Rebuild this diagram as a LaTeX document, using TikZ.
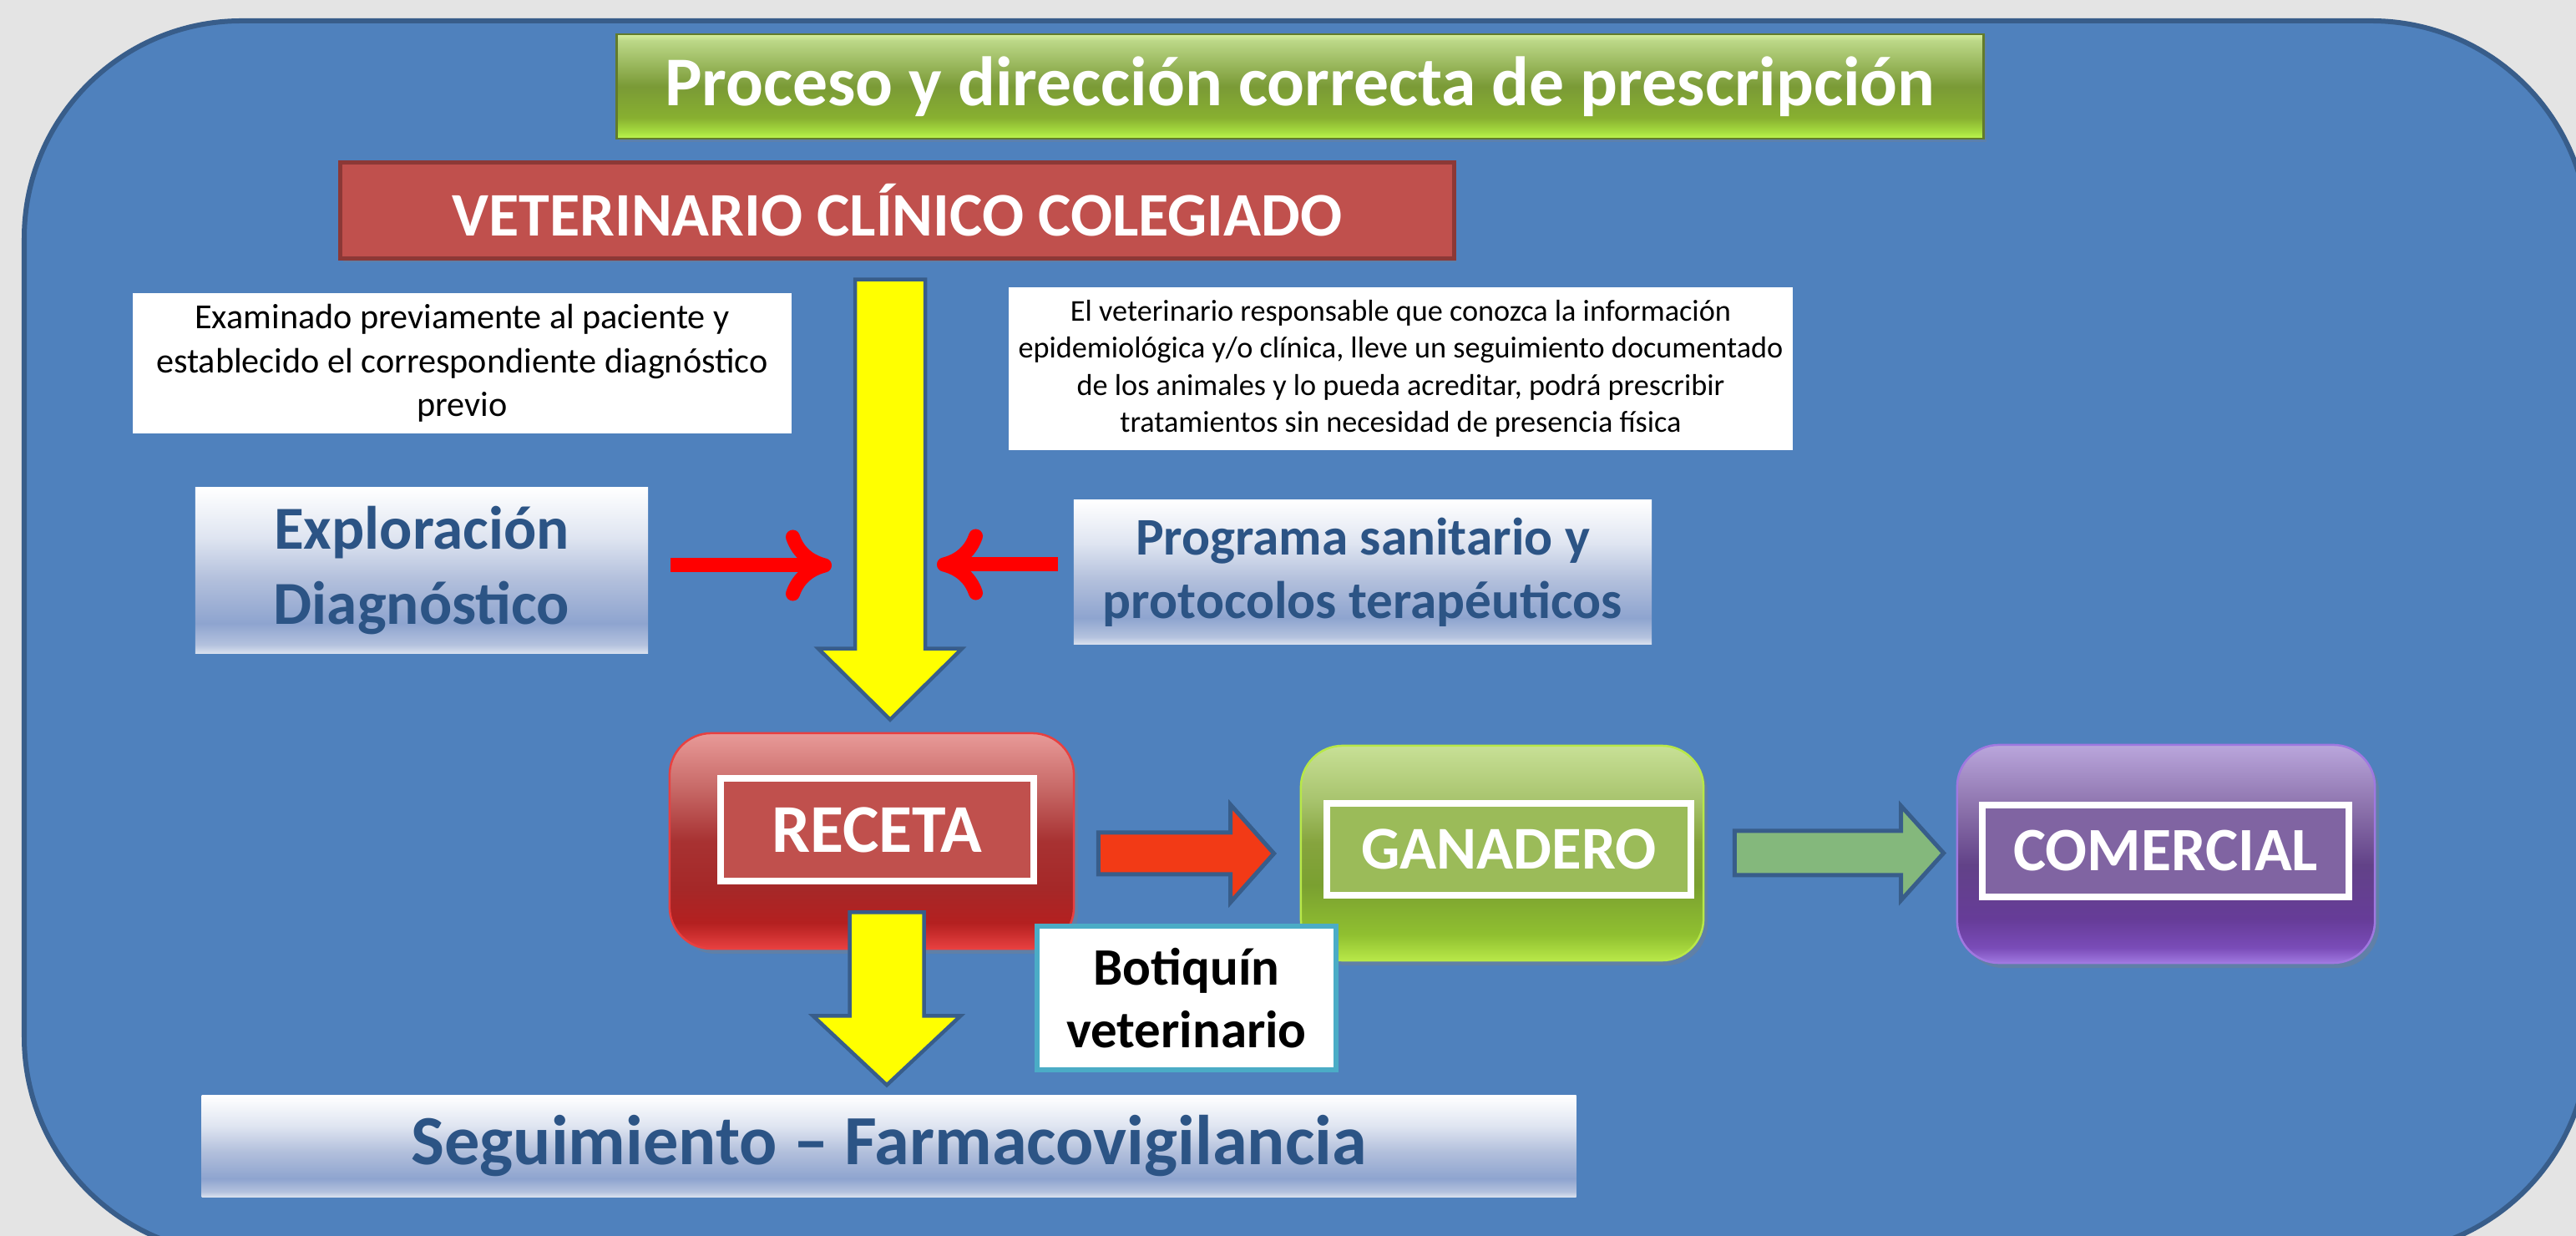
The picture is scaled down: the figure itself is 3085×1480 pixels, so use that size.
\documentclass[tikz,border=0pt]{standalone}
\usepackage{fontspec}
\setmainfont{Carlito}
\usetikzlibrary{arrows.meta,calc,shadows}
\definecolor{bgray}{HTML}{E4E4E4}
\definecolor{oblue}{HTML}{4F81BD}
\definecolor{oline}{HTML}{385D8A}
\definecolor{txtblue}{HTML}{2C5485}
\definecolor{vetred}{HTML}{C0504D}
\definecolor{vetline}{HTML}{8C3836}
\definecolor{ganfill}{HTML}{9BBB59}
\definecolor{comfill}{HTML}{8064A2}
\definecolor{botline}{HTML}{4BACC6}
\definecolor{arrred}{HTML}{F23A16}
\definecolor{arrgreen}{HTML}{84B87C}
\definecolor{yel}{HTML}{FFFF00}
% receta shading
\definecolor{rc1}{HTML}{E89A98}\definecolor{rc2}{HTML}{C86A68}\definecolor{rc3}{HTML}{A83232}
\definecolor{rc4}{HTML}{A52828}\definecolor{rc5}{HTML}{B42020}\definecolor{rc6}{HTML}{E84040}
\pgfdeclareverticalshading{recsh}{100bp}{color(0bp)=(rc6); color(25bp)=(rc6); color(31bp)=(rc5); color(39bp)=(rc4); color(50bp)=(rc3); color(62.5bp)=(rc2); color(75bp)=(rc1); color(100bp)=(rc1)}
% ganadero shading
\definecolor{gc1}{HTML}{C8E096}\definecolor{gc2}{HTML}{A8C46E}\definecolor{gc3}{HTML}{86A43E}
\definecolor{gc4}{HTML}{7AA030}\definecolor{gc5}{HTML}{90C030}\definecolor{gc6}{HTML}{B8E848}
\pgfdeclareverticalshading{gansh}{100bp}{color(0bp)=(gc6); color(25bp)=(gc6); color(31bp)=(gc5); color(42.5bp)=(gc4); color(52.5bp)=(gc3); color(62.5bp)=(gc2); color(75bp)=(gc1); color(100bp)=(gc1)}
% comercial shading
\definecolor{pc1}{HTML}{BAA6DC}\definecolor{pc2}{HTML}{8A70AA}\definecolor{pc3}{HTML}{624288}
\definecolor{pc4}{HTML}{663C98}\definecolor{pc5}{HTML}{7A4CB8}\definecolor{pc6}{HTML}{A078E0}
\pgfdeclareverticalshading{comsh}{100bp}{color(0bp)=(pc6); color(25bp)=(pc6); color(28.5bp)=(pc5); color(35bp)=(pc4); color(47.5bp)=(pc3); color(60bp)=(pc2); color(75bp)=(pc1); color(100bp)=(pc1)}
% title shading
\definecolor{tc1}{HTML}{D8F0A0}\definecolor{tc2}{HTML}{BCD888}\definecolor{tc3}{HTML}{7A9A36}
\definecolor{tc4}{HTML}{88B030}\definecolor{tc5}{HTML}{A8E040}\definecolor{tc6}{HTML}{C0F850}
\pgfdeclareverticalshading{titsh}{100bp}{color(0bp)=(tc6); color(25bp)=(tc6); color(28bp)=(tc5); color(35bp)=(tc4); color(50bp)=(tc3); color(72bp)=(tc2); color(75bp)=(tc1); color(100bp)=(tc1)}
% light box shading
\definecolor{lc1}{HTML}{FFFFFF}\definecolor{lc2}{HTML}{DFE5F1}\definecolor{lc3}{HTML}{B3C0DC}
\definecolor{lc4}{HTML}{8EA4CF}\definecolor{lc5}{HTML}{B4C2DE}\definecolor{lc6}{HTML}{D8E0EE}
\pgfdeclareverticalshading{lightsh}{100bp}{color(0bp)=(lc6); color(25bp)=(lc6); color(27.5bp)=(lc5); color(34bp)=(lc4); color(47.5bp)=(lc3); color(60bp)=(lc2); color(75bp)=(lc1); color(100bp)=(lc1)}

\newcommand\vblockarrow[6]{\draw[#1] ($(#2)+(-#4,0)$) -- ($(#3)+(-#4,-#6)$) -- ($(#3)+(-#5,-#6)$) -- (#3) -- ($(#3)+(#5,-#6)$) -- ($(#3)+(#4,-#6)$) -- ($(#2)+(#4,0)$) -- cycle;}
\newcommand\hblockarrow[6]{\draw[#1] ($(#2)+(0,-#4)$) -- ($(#3)+(-#6,-#4)$) -- ($(#3)+(-#6,-#5)$) -- (#3) -- ($(#3)+(-#6,#5)$) -- ($(#3)+(-#6,#4)$) -- ($(#2)+(0,#4)$) -- cycle;}

\tikzset{
  titlebox/.style={shading=titsh, draw=tc3!80!black, line width=0.025cm, text=white, inner sep=0pt,
    font=\bfseries\fontsize{23.8}{28}\selectfont, drop shadow={opacity=0.25,shadow xshift=0.03cm,shadow yshift=-0.04cm}},
  vetbox/.style={fill=vetred, draw=vetline, line width=0.05cm, text=white, inner sep=0pt,
    font=\bfseries\fontsize{21.1}{24}\selectfont, drop shadow={opacity=0.3,shadow xshift=0.03cm,shadow yshift=-0.05cm}},
  notebox/.style={fill=white, inner sep=0pt, align=center, text=black},
  lightbox/.style={shading=lightsh, inner sep=0pt, align=center, text=txtblue},
  glossy/.style={rounded corners=0.5cm, inner sep=0pt, line width=0.025cm,
    drop shadow={opacity=0.35,shadow xshift=0.05cm,shadow yshift=-0.06cm}},
  innerbox/.style={draw=white, line width=0.08cm, text=white, inner sep=0pt,
    font=\bfseries\fontsize{20.7}{24}\selectfont},
  yarrowstyle/.style={fill=yel, draw=oline, line width=0.045cm, line join=miter},
  redblock/.style={fill=arrred, draw=oline, line width=0.05cm, line join=miter},
  greenblock/.style={fill=arrgreen, draw=oline, line width=0.05cm, line join=miter},
  redline/.style={draw=red, line width=0.17cm, -{To[length=0.55cm,width=0.85cm]}},
}

\begin{document}
\begin{tikzpicture}[x=0.01cm, y=-0.01cm]
\useasboundingbox (0,0) rectangle (3085,1480);
\fill[bgray] (0,0) rectangle (3085,1480);
% main blue frame
\path[fill=oblue, draw=oline, line width=0.06cm, rounded corners=2.6cm] (29,25) rectangle (3100,1502);

% title and veterinary box
\node[titlebox, minimum width=16.36cm, minimum height=1.25cm] (title) at (1557,103.5)
  {Proceso y dirección correcta de prescripción\hspace{0.43cm}};
\node[vetbox, minimum width=13.33cm, minimum height=1.14cm] (vet) at (1074.5,252)
  {VETERINARIO CLÍNICO COLEGIADO};

% notes
\node[notebox, minimum width=7.89cm, minimum height=1.68cm, font=\fontsize{12}{15}\selectfont] (noteL) at (553.5,435)
  {Examinado previamente al paciente y\\establecido el correspondiente diagnóstico\\previo};
\node[notebox, minimum width=9.39cm, minimum height=1.95cm, font=\fontsize{10.3}{12.66}\selectfont] (noteR) at (1677.5,441.5)
  {El veterinario responsable que conozca la información\\epidemiológica y/o clínica, lleve un seguimiento documentado\\de los animales y lo pueda acreditar, podrá prescribir\\tratamientos sin necesidad de presencia física};

% side boxes
\node[lightbox, minimum width=5.42cm, minimum height=1.98cm, font=\bfseries\fontsize{20.8}{25.6}\selectfont] (explo) at (505,683)
  {Exploración\\Diagnóstico};
\node[lightbox, minimum width=6.92cm, minimum height=1.72cm, font=\bfseries\fontsize{18}{21.6}\selectfont] (prog) at (1632,685)
  {Programa sanitario y\\protocolos terapéuticos};

% main glossy boxes
\node[glossy, shading=recsh, draw=rc6, minimum width=4.84cm, minimum height=2.58cm] (receta) at (1044,1007) {};
\node[innerbox, fill=vetred, minimum width=3.75cm, minimum height=1.23cm, font=\bfseries\fontsize{23.3}{27}\selectfont] (recetalbl) at (1050.5,993.5) {RECETA};
\node[glossy, shading=gansh, draw=gc6, minimum width=4.82cm, minimum height=2.57cm] (ganadero) at (1799,1021.5) {};
\node[innerbox, fill=ganfill, minimum width=4.36cm, minimum height=1.10cm] (ganadlbl) at (1807,1017) {GANADERO};
\node[glossy, shading=comsh, draw=pc6, minimum width=5.00cm, minimum height=2.61cm] (comercial) at (2594,1022.5) {};
\node[innerbox, fill=comfill, minimum width=4.39cm, minimum height=1.10cm, font=\bfseries\fontsize{21}{24}\selectfont] (comerlbl) at (2593.5,1019) {COMERCIAL};

% bottom box
\node[lightbox, minimum width=16.45cm, minimum height=1.21cm, font=\bfseries\fontsize{24}{28}\selectfont] (seg) at (1064.5,1372.5)
  {Seguimiento – Farmacovigilancia};

% connector coordinates
\coordinate (ya1s) at ($(vet.south)+(-8.5,23)$);
\coordinate (ya1t) at ($(receta.north -| ya1s)+(0,-15)$);
\coordinate (ya2s) at ($(receta.south)+(18,-45)$);
\coordinate (ya2t) at ($(seg.north -| ya2s)+(0,-12)$);
\coordinate (rbs) at ($(receta.east)+(28,15)$);
\coordinate (rbt) at ($(ganadero.west |- rbs)+(-31,0)$);
\coordinate (gbs) at ($(ganadero.east)+(36,0)$);
\coordinate (gbt) at ($(comercial.west |- gbs)+(-15,0)$);
\coordinate (rl1s) at ($(explo.east)+(26,-6)$);
\coordinate (rl1t) at ($(ya1s |- rl1s)+(-70,0)$);
\coordinate (rl2s) at ($(prog.west)+(-18,-9)$);
\coordinate (rl2t) at ($(ya1s |- rl2s)+(56,0)$);

% yellow main arrow
\vblockarrow{yarrowstyle}{ya1s}{ya1t}{42}{86}{85}
% red line arrows
\draw[redline] (rl1s) -- (rl1t);
\draw[redline] (rl2s) -- (rl2t);
% block arrows between glossy boxes
\hblockarrow{redblock}{rbs}{rbt}{25}{58.5}{52}
\hblockarrow{greenblock}{gbs}{gbt}{26.5}{56.5}{51}
% yellow arrow to follow-up
\vblockarrow{yarrowstyle}{ya2s}{ya2t}{44.5}{88.5}{83}

% botiquin box
\node[draw=botline, line width=0.06cm, fill=white, inner sep=0pt, align=center, minimum width=3.58cm, minimum height=1.72cm,
  font=\bfseries\fontsize{17.9}{21.3}\selectfont] (botiq) at (1421,1195) {Botiquín\\veterinario};
\end{tikzpicture}
\end{document}
